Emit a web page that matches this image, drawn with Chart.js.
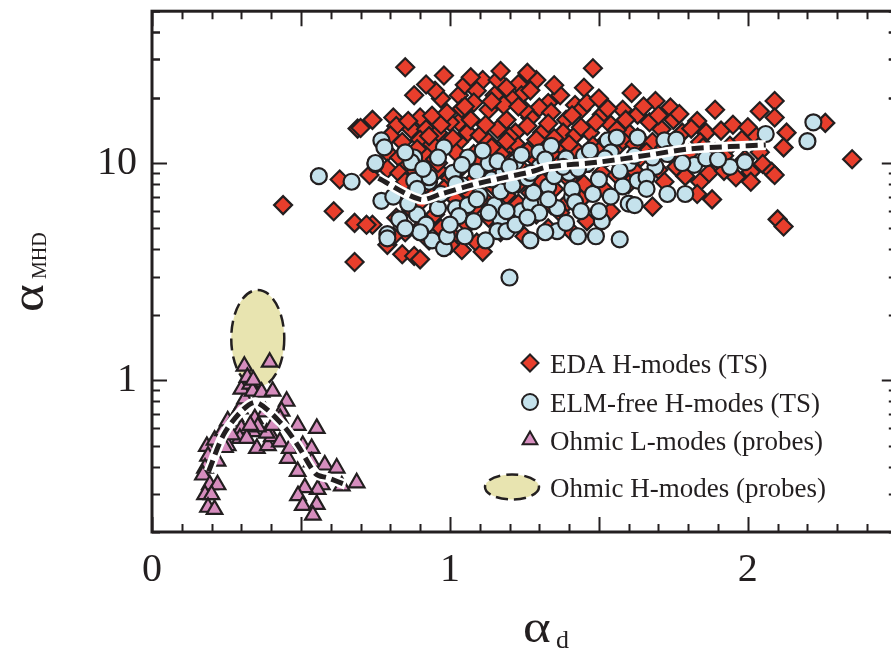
<!DOCTYPE html>
<html>
<head>
<meta charset="utf-8">
<script src="https://cdn.jsdelivr.net/npm/chart.js@4.4.0/dist/chart.umd.min.js"></script>
<style>
  html, body { margin: 0; padding: 0; background: #fff; overflow: hidden; }
  canvas { display: block; }
</style>
</head>
<body>
<canvas id="chart" width="908" height="651"></canvas>
<script>
// EDA H-modes (TS) - diamonds, [alpha_d, alpha_MHD]
const edaPoints = [
  [0.44,6.4],[0.61,6.0],[0.68,3.5],[0.63,8.4],[0.68,5.3],[0.74,5.2],[0.69,14.4],[0.74,15.8],[0.81,16.2],[0.85,27.6],[0.88,20.5],[0.73,8.8],[0.72,5.2],
  [0.98,25.3],[0.97,19.8],[1.03,20.5],[1.05,22.9],[1.11,24.1],[1.16,24.1],[1.23,23.1],[1.29,24.1],[1.09,21.5],[1.15,20.5],[1.24,20.5],[1.21,19.6],[1.37,20.5],[1.42,18.5],[1.33,18.9],[1.30,18.0],[1.48,27.3],[1.45,22.2],[1.61,21.0],
  [0.90,16.2],[0.94,16.5],[1.03,15.4],[1.13,17.6],[1.19,15.8],[1.27,16.2],[1.34,17.1],[1.39,15.8],[0.70,14.5],[0.82,14.8],[0.87,14.3],[0.92,14.3],[0.96,13.8],[1.00,15.4],[1.06,13.8],[1.10,13.4],[1.16,14.3],[1.22,13.8],[1.31,13.8],[1.38,13.8],
  [0.84,12.5],[0.90,12.8],[0.94,12.2],[1.03,12.5],[1.13,12.5],[1.19,11.6],[1.36,11.8],[0.79,11.2],[0.83,10.6],[0.86,9.8],[0.92,10.8],[0.95,10.4],[1.02,11.2],[1.08,11.0],[0.79,9.4],
  [1.44,17.6],[1.46,18.9],[1.51,16.7],[1.58,17.6],[1.69,19.3],[1.74,18.0],[1.63,16.7],[1.67,15.4],[1.75,15.8],[1.89,17.6],[1.83,15.6],[1.86,13.8],[1.91,14.1],[1.98,12.8],[2.04,17.3],[2.09,19.3],[2.09,16.2],[2.13,13.8],[2.12,11.8],[1.54,15.0],[1.47,13.8],[1.42,13.4],[1.71,14.3],[1.78,13.8],[1.60,13.8],[1.52,12.5],[2.04,11.2],[2.05,9.9],[2.08,9.1],[2.01,9.1],[1.90,9.9],[1.89,11.2],[1.80,11.0],[1.75,10.6],[1.84,12.5],[1.68,12.5],[1.63,13.1],[1.56,11.8],[1.48,12.0],[1.43,11.2],[1.94,12.0],[1.99,10.4],[2.09,8.8],
  [2.26,15.3],[2.35,10.4],[2.01,8.2],[2.10,5.5],[2.12,5.1],
  [1.54,6.0],[1.46,5.4],[1.68,6.3],[1.84,8.2],[1.88,6.8],[1.83,7.2],[1.96,8.6],[1.79,8.7],[1.70,9.3],[1.60,8.0],[1.52,7.5],[1.45,7.0],[1.40,8.4],
  [0.88,9.0],[0.92,8.0],[0.96,9.3],[1.00,8.5],[1.04,9.6],[1.08,8.4],[1.12,9.9],[1.16,9.0],[1.20,10.2],[1.24,9.4],[1.28,10.6],[1.32,9.8],[1.36,10.4],[1.40,9.7],[1.26,11.3],[1.17,11.0],[1.31,12.0],[1.22,12.3],
  [0.86,7.2],[0.90,6.6],[0.94,7.0],[0.98,7.6],[1.02,6.8],[1.06,7.4],[1.11,6.9],[1.15,7.7],[1.19,7.1],[1.23,8.0],[1.27,7.3],[1.31,8.2],[1.35,7.6],[1.39,6.5],[1.43,9.2],[1.47,10.2],[1.51,9.0],[1.55,10.6],[1.59,9.5],[1.64,10.6],[1.50,11.3],[1.58,12.7],
  [0.82,5.6],[0.85,4.8],[0.79,4.2],[0.84,3.8],[0.88,3.73],[0.90,3.6],[0.93,4.4],[0.97,5.0],[1.01,4.6],[1.04,3.98],[1.06,5.2],[1.09,4.3],[1.13,5.6],[1.17,4.8],[1.21,5.4],[1.25,4.6],[1.29,5.8],[1.33,5.0],[1.37,5.9],[1.41,4.8],[0.95,5.8],[0.87,6.1],[1.08,6.2],[1.15,6.0],[1.23,6.5],[1.34,6.4],
  [0.80,13.4],[0.86,15.6],[0.89,11.6],[0.93,13.3],[0.97,15.0],[0.99,17.0],[1.01,13.0],[1.04,17.8],[1.07,15.8],[1.08,19.0],[1.12,15.0],[1.14,11.8],[1.18,18.5],[1.20,13.2],[1.25,17.6],[1.26,14.8],[1.29,12.8],[1.33,15.2],[1.35,13.0],[1.40,12.2],
  [1.41,16.6],[1.44,14.6],[1.49,15.4],[1.50,19.8],[1.53,17.8],[1.56,14.2],[1.59,15.8],[1.62,12.2],[1.65,18.2],[1.66,11.2],[1.70,16.6],[1.72,11.8],[1.77,16.8],[1.81,14.4],[1.85,11.8],[1.87,9.0],[1.92,10.8],[1.95,15.0],[2.02,13.6],[2.00,14.6],
  [0.95,21.5],[1.07,24.8],[1.19,22.2],[1.27,21.6],[1.35,22.8],[1.17,26.5],[1.26,26.0],[0.92,23.0],[1.05,18.2],[1.14,19.2],[1.23,18.2],
  [0.83,9.0],[0.85,8.2],[0.96,10.0],[1.10,10.4],[1.19,12.6],[1.34,11.0],[1.45,8.0],[1.56,8.8],[1.62,9.2],[1.72,8.2],[1.76,9.6],[1.92,9.2],[0.91,5.2],[1.00,4.2],[0.81,4.6],[1.11,3.9]
];

// ELM-free H-modes (TS) - circles
const elmFreePoints = [
  [0.56,8.7],[0.67,8.2],[0.77,12.7],[0.78,11.8],[0.75,9.9],[0.77,6.7],[0.81,7.0],[0.83,5.5],[0.79,4.7],[0.79,4.5],[0.89,5.8],[0.92,5.2],[0.94,4.4],[0.98,4.06],[0.99,4.6],[0.96,6.2],[1.02,6.2],[1.06,6.4],[1.10,7.1],[1.15,6.4],[1.17,5.5],[1.16,4.86],[1.12,4.4],[1.19,4.86],[1.20,2.97],[1.24,6.0],[1.27,6.5],[1.30,5.9],[1.33,7.8],[1.36,6.2],[1.36,4.86],[1.27,4.4],[1.41,7.0],[1.41,7.6],[0.93,8.2],[1.17,7.4],[1.21,7.9],[1.28,7.3],
  [0.75,10.0],[0.88,10.6],[0.98,11.8],[1.06,10.6],[1.09,9.1],[1.14,8.4],[1.18,9.1],[1.22,10.1],[1.24,10.9],[1.30,11.2],[1.34,12.0],[1.39,10.5],[0.93,8.6],[0.87,10.1],[0.88,8.3],[0.91,9.4],[1.01,9.0],[1.04,7.9],[1.13,10.0],
  [1.43,4.6],[1.49,4.6],[1.57,4.45],[1.51,5.4],[1.50,6.0],[1.60,6.5],[1.62,6.4],[1.73,7.2],[1.79,7.2],[1.48,7.2],[1.58,7.8],[1.63,8.3],[1.42,6.6],[1.44,6.0],
  [2.22,15.4],[2.20,12.6],[2.06,13.6],[1.53,12.7],[1.56,13.1],[1.63,13.1],[1.72,12.7],[1.76,12.8],[1.54,11.2],[1.69,9.6],[1.82,9.8],[1.94,9.6],[1.99,10.1],[1.66,8.6],[1.50,8.4],
  [1.46,9.9],[1.40,9.0],[1.35,8.7],[1.30,9.6],[1.26,8.5],[1.45,10.8],[1.52,10.5],[1.60,10.0],[1.73,11.0],[1.86,10.5],[1.03,5.7],[1.08,5.4],[0.86,6.5],[0.90,4.8],[1.00,5.2],[1.05,4.6],[1.22,5.2],[1.32,4.8],[1.39,5.3],
  [0.85,11.2],[0.96,10.6],[1.04,9.8],[1.11,11.4],[1.16,10.2],[1.20,9.6],[1.27,9.0],[1.32,10.4],[1.38,9.6],[1.43,9.4],[1.47,11.4],[1.57,9.2],[1.62,10.8],[1.68,10.6],[1.78,10.0],[1.90,10.4],[1.02,8.0],[0.97,7.2],[1.09,6.8],[1.13,5.9],[1.19,6.0],[1.26,5.6],[1.33,6.8],[0.85,5.0],[0.89,7.6],[1.54,7.0],[1.66,7.6]
];

// Ohmic L-modes (probes) - triangles
const ohmicLPoints = [
  [0.184,0.496],[0.21,0.53],[0.238,0.586],[0.254,0.65],[0.28,0.68],[0.295,0.738],[0.312,0.82],[0.30,0.91],[0.33,0.96],[0.338,0.89],[0.368,0.88],[0.405,0.89],[0.452,0.80],[0.435,0.72],[0.43,0.665],[0.38,0.715],[0.345,0.665],[0.338,0.58],[0.30,0.60],[0.295,0.54],
  [0.352,0.485],[0.389,0.50],[0.402,0.55],[0.429,0.52],[0.489,0.62],[0.553,0.60],[0.506,0.50],[0.536,0.485],[0.456,0.437],[0.489,0.38],[0.536,0.42],[0.58,0.407],[0.62,0.394],[0.687,0.337],[0.637,0.326],[0.57,0.33],[0.556,0.314],[0.513,0.32],[0.49,0.294],[0.506,0.265],[0.553,0.268],[0.54,0.239],
  [0.188,0.447],[0.178,0.394],[0.171,0.366],[0.194,0.33],[0.22,0.33],[0.178,0.297],[0.20,0.297],[0.188,0.26],[0.21,0.254],[0.22,0.424],[0.254,0.50],[0.268,0.56],[0.245,0.49],[0.318,0.54],[0.385,0.57],[0.355,0.61],[0.33,0.62],[0.405,0.62],[0.462,0.485],
  [0.31,1.16],[0.395,1.21],[0.32,1.03],[0.34,1.0]
];

// trend lines through the H-mode and L-mode clouds
const hTrendX = [0.76, 0.90, 0.97, 1.07, 1.17, 1.27, 1.33, 1.50, 1.67, 1.80, 1.94, 2.06];
const hTrendY = [8.5, 6.8, 7.2, 7.9, 8.5, 9.1, 9.6, 10.1, 10.9, 11.6, 11.9, 12.1];
const lTrendX = [0.19, 0.24, 0.30, 0.35, 0.44, 0.49, 0.55, 0.59, 0.65];
const lTrendY = [0.38, 0.56, 0.72, 0.79, 0.62, 0.50, 0.37, 0.355, 0.33];

// Ohmic H-modes region (ellipse bounds)
const ohmicHX = [0.266, 0.444];
const ohmicHY = [0.93, 2.6];

const xTickLabels = [0, 1, 2];
const yTickLabels = [1, 10];
const legendLabels = ['EDA H-modes (TS)', 'ELM-free H-modes (TS)', 'Ohmic L-modes (probes)', 'Ohmic H-modes (probes)'];

const INK = '#231f20';
const RED = '#e83e2c';
const BLUE = '#c5e2ec';
const PINK = '#d68dbe';
const KHAKI = '#e8e4b0';
const SERIF = '"Liberation Serif", "DejaVu Serif", serif';

const toXY = (xs, ys) => xs.map((x, i) => ({x: x, y: ys[i]}));
const pairs = arr => arr.map(p => ({x: p[0], y: p[1]}));

const trendLine = (data, white) => ({
  data: data,
  showLine: true,
  pointRadius: 0,
  borderColor: white ? '#ffffff' : INK,
  borderWidth: white ? 10 : 5,
  borderDash: white ? [] : [12, 6],
  tension: 0.3,
  order: white ? 1 : 0
});

function ellipsePath(ctx, cx, cy, rx, ry) {
  ctx.beginPath();
  ctx.ellipse(cx, cy, rx, ry, 0, 0, Math.PI * 2);
}

// drop the label overflow padding so the plot frame sits where the axes are fixed
function noPad(s) {
  s.paddingTop = 0; s.paddingBottom = 0; s.paddingLeft = 0; s.paddingRight = 0;
}

const decorPlugin = {
  id: 'decor',
  beforeDatasetsDraw(chart) {
    const ctx = chart.ctx, xs = chart.scales.x, ys = chart.scales.y;
    const x0 = xs.getPixelForValue(ohmicHX[0]), x1 = xs.getPixelForValue(ohmicHX[1]);
    const y0 = ys.getPixelForValue(ohmicHY[1]), y1 = ys.getPixelForValue(ohmicHY[0]);
    ctx.save();
    ellipsePath(ctx, (x0 + x1) / 2, (y0 + y1) / 2, (x1 - x0) / 2, (y1 - y0) / 2);
    ctx.fillStyle = KHAKI;
    ctx.fill();
    ctx.setLineDash([12, 6]);
    ctx.lineWidth = 2.5;
    ctx.strokeStyle = INK;
    ctx.stroke();
    ctx.restore();
  },
  afterDraw(chart) {
    const ctx = chart.ctx, a = chart.chartArea, xs = chart.scales.x, ys = chart.scales.y;
    ctx.save();
    ctx.strokeStyle = INK;
    ctx.lineCap = 'butt';
    // minor / major ticks, pointing inwards on all four sides
    ctx.lineWidth = 2;
    for (let i = 0; i <= 25; i++) {
      const v = i / 10;
      const px = Math.round(xs.getPixelForValue(v)) + 0.5;
      const len = (i % 5 === 0) ? 15 : 8;
      ctx.beginPath();
      ctx.moveTo(px, a.bottom); ctx.lineTo(px, a.bottom - len);
      ctx.moveTo(px, a.top); ctx.lineTo(px, a.top + len);
      ctx.stroke();
    }
    const yTicks = [];
    [0.1, 1, 10].forEach(d => { for (let k = 1; k <= 9; k++) yTicks.push(k * d); });
    yTicks.push(20, 30, 40, 50);
    yTicks.forEach(v => {
      if (v < 0.2 || v > 50) return;
      const py = Math.round(ys.getPixelForValue(v)) + 0.5;
      const len = (v === 1 || v === 10) ? 15 : 8;
      ctx.beginPath();
      ctx.moveTo(a.left, py); ctx.lineTo(a.left + len, py);
      ctx.moveTo(a.right, py); ctx.lineTo(a.right - len, py);
      ctx.stroke();
    });
    // frame
    ctx.lineWidth = 3;
    ctx.strokeRect(a.left, a.top, a.right - a.left, a.bottom - a.top);

    // axis titles
    ctx.fillStyle = INK;
    ctx.textBaseline = 'alphabetic';
    ctx.textAlign = 'left';
    ctx.save();
    ctx.translate(523, 642);
    ctx.scale(1.15, 1);
    ctx.font = '46px ' + SERIF;
    ctx.fillText('α', 0, 0);
    ctx.restore();
    ctx.font = '26px ' + SERIF;
    ctx.fillText('d', 556, 648);

    ctx.save();
    ctx.translate(43, 312);
    ctx.rotate(-Math.PI / 2);
    ctx.save();
    ctx.scale(1.15, 1);
    ctx.font = '46px ' + SERIF;
    ctx.fillText('α', 0, 0);
    ctx.restore();
    ctx.font = '20px ' + SERIF;
    ctx.fillText('MHD', 33, 3);
    ctx.restore();

    // legend
    const rows = [365, 404, 442, 489];
    const markers = [['rectRot', RED], ['circle', BLUE], ['triangle', PINK]];
    markers.forEach((m, i) => {
      const r = m[0] === 'rectRot' ? 8.5 : (m[0] === 'circle' ? 8 : 8.5);
      ctx.save();
      ctx.fillStyle = m[1];
      ctx.strokeStyle = INK;
      ctx.lineWidth = 2;
      Chart.helpers.drawPoint(ctx, {pointStyle: m[0], radius: r, rotation: 0, borderWidth: 2}, 530, rows[i] - 2);
      ctx.restore();
    });
    ctx.save();
    ellipsePath(ctx, 512, 487, 27, 12.5);
    ctx.fillStyle = KHAKI;
    ctx.fill();
    ctx.setLineDash([12, 6]);
    ctx.lineWidth = 2.5;
    ctx.stroke();
    ctx.restore();
    ctx.font = '27px ' + SERIF;
    ctx.fillStyle = INK;
    legendLabels.forEach((t, i) => ctx.fillText(t, 550, rows[i] + 8));
    ctx.restore();
  }
};

new Chart(document.getElementById('chart'), {
  type: 'scatter',
  data: {
    datasets: [
      trendLine(toXY(hTrendX, hTrendY), false),
      trendLine(toXY(hTrendX, hTrendY), true),
      trendLine(toXY(lTrendX, lTrendY), false),
      trendLine(toXY(lTrendX, lTrendY), true),
      {label: legendLabels[1], data: pairs(elmFreePoints), pointStyle: 'circle', pointRadius: 8,
       backgroundColor: BLUE, borderColor: INK, borderWidth: 2.2, order: 3},
      {label: legendLabels[0], data: pairs(edaPoints), pointStyle: 'rectRot', pointRadius: 9,
       backgroundColor: RED, borderColor: INK, borderWidth: 2.2, order: 4},
      {label: legendLabels[2], data: pairs(ohmicLPoints), pointStyle: 'triangle', pointRadius: 9,
       backgroundColor: PINK, borderColor: INK, borderWidth: 2.2, order: 2}
    ]
  },
  options: {
    responsive: false,
    animation: false,
    devicePixelRatio: 1,
    layout: {padding: {top: 4, right: 4, left: 0, bottom: 0}},
    plugins: {legend: {display: false}, tooltip: {enabled: false}},
    scales: {
      x: {
        type: 'linear', min: 0, max: 2.5,
        afterBuildTicks: s => { s.ticks = xTickLabels.map(v => ({value: v})); },
        afterFit: s => { s.height = 119; noPad(s); },
        grid: {display: false, drawTicks: false},
        border: {display: false},
        ticks: {font: {family: SERIF, size: 40}, color: INK, padding: 14, maxRotation: 0, autoSkip: false}
      },
      y: {
        type: 'logarithmic', min: 0.2, max: 50,
        afterBuildTicks: s => { s.ticks = yTickLabels.map(v => ({value: v})); },
        afterFit: s => { s.width = 152; noPad(s); },
        grid: {display: false, drawTicks: false},
        border: {display: false},
        ticks: {font: {family: SERIF, size: 40}, color: INK, padding: 15, autoSkip: false, callback: v => String(v)}
      }
    }
  },
  plugins: [decorPlugin]
});
</script>
</body>
</html>
